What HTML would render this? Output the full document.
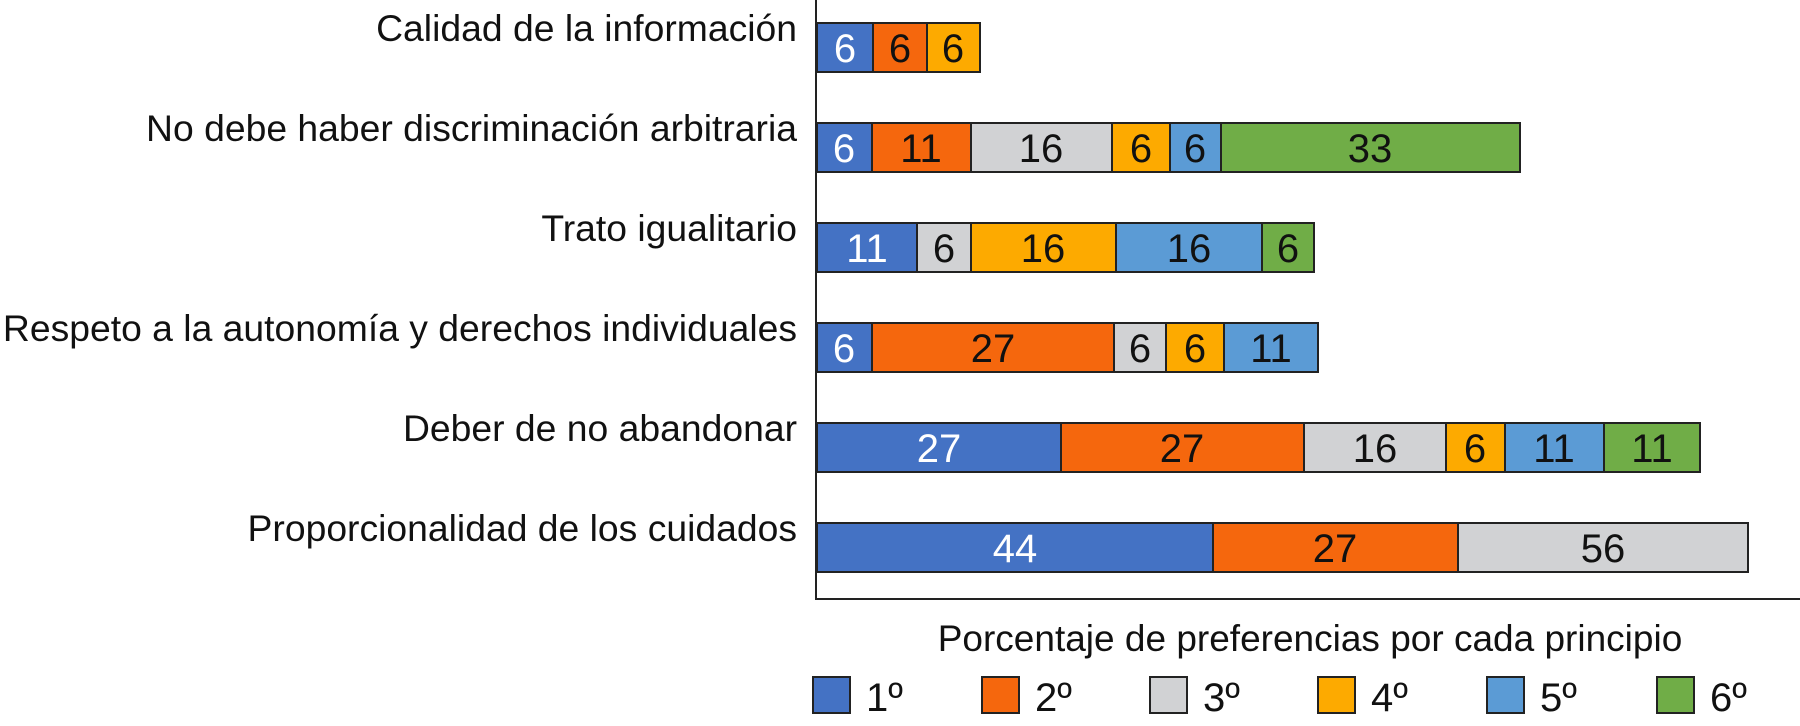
<!DOCTYPE html>
<html><head><meta charset="utf-8"><style>html,body{margin:0;padding:0;background:#fff}svg{display:block}</style></head>
<body>
<svg width="1800" height="726" viewBox="0 0 1800 726" xmlns="http://www.w3.org/2000/svg" font-family="Liberation Sans, Arial, sans-serif">
<g font-size="37.3" text-anchor="end" fill="#111">
<text x="797" y="41">Calidad de la información</text>
<text x="797" y="141">No debe haber discriminación arbitraria</text>
<text x="797" y="241">Trato igualitario</text>
<text x="797" y="341">Respeto a la autonomía y derechos individuales</text>
<text x="797" y="441">Deber de no abandonar</text>
<text x="797" y="541">Proporcionalidad de los cuidados</text>
</g>
<g stroke="#222" stroke-width="2">
<rect x="817" y="23" width="56" height="49" fill="#4472c4"/>
<rect x="873" y="23" width="54" height="49" fill="#f5670d"/>
<rect x="927" y="23" width="53" height="49" fill="#fdaa00"/>
<rect x="817" y="123" width="55" height="49" fill="#4472c4"/>
<rect x="872" y="123" width="99" height="49" fill="#f5670d"/>
<rect x="971" y="123" width="141" height="49" fill="#d1d2d4"/>
<rect x="1112" y="123" width="58" height="49" fill="#fdaa00"/>
<rect x="1170" y="123" width="51" height="49" fill="#5b9bd5"/>
<rect x="1221" y="123" width="299" height="49" fill="#70ad47"/>
<rect x="817" y="223" width="100" height="49" fill="#4472c4"/>
<rect x="917" y="223" width="54" height="49" fill="#d1d2d4"/>
<rect x="971" y="223" width="145" height="49" fill="#fdaa00"/>
<rect x="1116" y="223" width="146" height="49" fill="#5b9bd5"/>
<rect x="1262" y="223" width="52" height="49" fill="#70ad47"/>
<rect x="817" y="323" width="55" height="49" fill="#4472c4"/>
<rect x="872" y="323" width="242" height="49" fill="#f5670d"/>
<rect x="1114" y="323" width="52" height="49" fill="#d1d2d4"/>
<rect x="1166" y="323" width="58" height="49" fill="#fdaa00"/>
<rect x="1224" y="323" width="94" height="49" fill="#5b9bd5"/>
<rect x="817" y="423" width="244" height="49" fill="#4472c4"/>
<rect x="1061" y="423" width="243" height="49" fill="#f5670d"/>
<rect x="1304" y="423" width="142" height="49" fill="#d1d2d4"/>
<rect x="1446" y="423" width="59" height="49" fill="#fdaa00"/>
<rect x="1505" y="423" width="99" height="49" fill="#5b9bd5"/>
<rect x="1604" y="423" width="96" height="49" fill="#70ad47"/>
<rect x="817" y="523" width="396" height="49" fill="#4472c4"/>
<rect x="1213" y="523" width="245" height="49" fill="#f5670d"/>
<rect x="1458" y="523" width="290" height="49" fill="#d1d2d4"/>
</g>
<g font-size="40" text-anchor="middle" fill="#111">
<text x="845" y="62" fill="#fff">6</text><text x="900" y="62">6</text><text x="953" y="62">6</text>
<text x="844" y="162" fill="#fff">6</text><text x="921" y="162">11</text><text x="1041" y="162">16</text><text x="1141" y="162">6</text><text x="1195" y="162">6</text><text x="1370" y="162">33</text>
<text x="867" y="262" fill="#fff">11</text><text x="944" y="262">6</text><text x="1043" y="262">16</text><text x="1189" y="262">16</text><text x="1288" y="262">6</text>
<text x="844" y="362" fill="#fff">6</text><text x="993" y="362">27</text><text x="1140" y="362">6</text><text x="1195" y="362">6</text><text x="1271" y="362">11</text>
<text x="939" y="462" fill="#fff">27</text><text x="1182" y="462">27</text><text x="1375" y="462">16</text><text x="1475" y="462">6</text><text x="1554" y="462">11</text><text x="1652" y="462">11</text>
<text x="1015" y="562" fill="#fff">44</text><text x="1335" y="562">27</text><text x="1603" y="562">56</text>
</g>
<line x1="816" y1="0" x2="816" y2="600" stroke="#222" stroke-width="2"/>
<line x1="815" y1="599" x2="1800" y2="599" stroke="#222" stroke-width="2"/>
<text x="1310" y="651" font-size="37" text-anchor="middle" fill="#111">Porcentaje de preferencias por cada principio</text>
<g stroke="#222" stroke-width="2">
<rect x="813" y="677" width="37" height="36" fill="#4472c4"/>
<rect x="982" y="677" width="37" height="36" fill="#f5670d"/>
<rect x="1150" y="677" width="37" height="36" fill="#d1d2d4"/>
<rect x="1318" y="677" width="37" height="36" fill="#fdaa00"/>
<rect x="1487" y="677" width="37" height="36" fill="#5b9bd5"/>
<rect x="1657" y="677" width="37" height="36" fill="#70ad47"/>
</g>
<g font-size="40" fill="#111">
<text x="866" y="711">1º</text><text x="1035" y="711">2º</text><text x="1203" y="711">3º</text><text x="1371" y="711">4º</text><text x="1540" y="711">5º</text><text x="1710" y="711">6º</text>
</g>
</svg>
</body></html>
